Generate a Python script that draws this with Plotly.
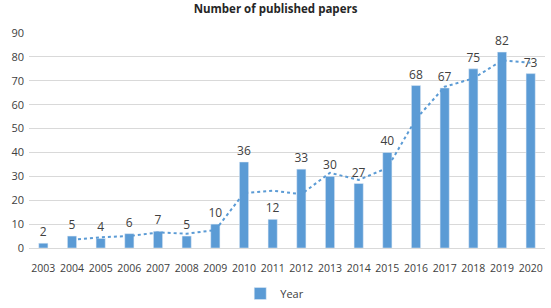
import plotly.graph_objects as go

years = ["2003", "2004", "2005", "2006", "2007", "2008", "2009", "2010", "2011",
         "2012", "2013", "2014", "2015", "2016", "2017", "2018", "2019", "2020"]
papers = [2, 5, 4, 6, 7, 5, 10, 36, 12, 33, 30, 27, 40, 68, 67, 75, 82, 73]
# dotted trend line values (2-period moving average)
trend_years = years[1:]
trend_vals = [3.5, 4.5, 5, 6.5, 6, 7.5, 23, 24, 22.5, 31.5, 28.5, 33.5, 54, 67.5, 71, 78.5, 77.5]

blue = "#5b9bd5"
font_family = "Open Sans, Noto Sans, sans-serif"

fig = go.Figure()
fig.add_trace(go.Bar(
    x=years, y=papers, name="Year", marker_color=blue,
    text=[str(v) for v in papers], textposition="outside", constraintext="none",
    textfont=dict(size=12, color="#404040"), cliponaxis=False,
))
fig.add_trace(go.Scatter(
    x=trend_years, y=trend_vals, mode="lines", showlegend=False,
    line=dict(color=blue, width=2, dash="dot"), hoverinfo="skip",
))
fig.update_layout(
    width=551, height=308,
    margin=dict(l=29, r=6, t=33, b=60),
    paper_bgcolor="white", plot_bgcolor="white",
    font=dict(family=font_family, size=11, color="#404040"),
    title=dict(text="<b>Number of published papers</b>", x=0.5, xanchor="center",
               xref="container", yref="container", y=0.97, yanchor="middle",
               font=dict(size=11.5, color="#262626")),
    bargap=0.68,
    uniformtext=dict(minsize=12, mode="show"),
    showlegend=True,
    legend=dict(orientation="h", xref="container", x=0.436, xanchor="left",
                yref="container", y=0.0, yanchor="bottom",
                font=dict(size=11, color="#404040")),
    yaxis=dict(range=[0, 90], dtick=10, showgrid=True, gridcolor="#d9d9d9",
               zeroline=False, showline=False, tickfont=dict(size=11),
               ticks="", automargin=False, ticklabelstandoff=4),
    xaxis=dict(showline=True, linecolor="#d9d9d9", showgrid=False, range=[-0.5, 17.5],
               tickfont=dict(size=10.5), ticks="", type="category", automargin=False,
               ticklabelstandoff=10),
)
fig.write_html("out.html", config={"displayModeBar": False},
               post_script="document.body.style.margin='0';")
